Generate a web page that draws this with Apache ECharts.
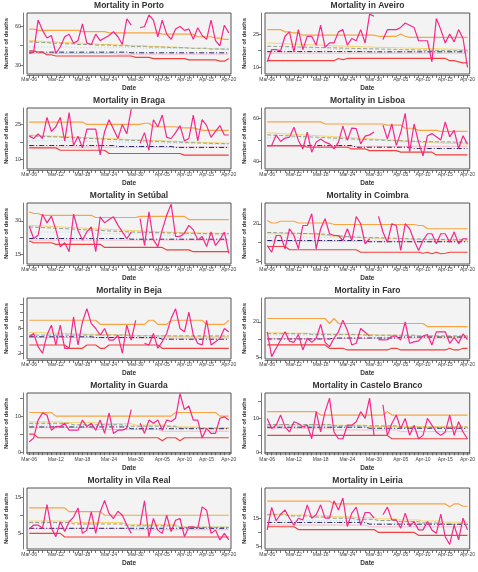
<!DOCTYPE html>
<html>
<head>
<meta charset="utf-8">
<script src="https://cdn.jsdelivr.net/npm/echarts@6/dist/echarts.min.js"></script>
<style>
html,body{margin:0;padding:0;background:#fff;}
#chart{width:478px;height:572px;}
</style>
</head>
<body>
<div id="chart"></div>
<script>
var dates = ['Mar-06','Mar-07','Mar-08','Mar-09','Mar-10','Mar-11','Mar-12','Mar-13','Mar-14','Mar-15','Mar-16','Mar-17','Mar-18','Mar-19','Mar-20','Mar-21','Mar-22','Mar-23','Mar-24','Mar-25','Mar-26','Mar-27','Mar-28','Mar-29','Mar-30','Mar-31',
  'Apr-01','Apr-02','Apr-03','Apr-04','Apr-05','Apr-06','Apr-07','Apr-08','Apr-09','Apr-10','Apr-11','Apr-12','Apr-13','Apr-14','Apr-15','Apr-16','Apr-17','Apr-18','Apr-19','Apr-20'];
var labelIdx = [0,6,12,18,24,30,35,40,45];

var names = ['Porto','Aveiro','Braga','Lisboa','Setúbal','Coimbra','Beja','Faro','Guarda','Castelo Branco','Vila Real','Leiria'];
var yMin = [23,7,6,36.4,10.7,3.9,0.6,4.4,-0.5,-0.5,0.7,4.2];
var yMax = [70.5,34.5,32,65,38,28.3,15.4,30,16.4,17.5,17.5,25.6];
var yTicks = [[30,45,60],[10,17.5,25],[10,17.5,25],[40,50,60],[15,22.5,30],[5,12.5,20],[2,4,6,8,10,12,14],[5,12.5,20],[0,5,10,15],[0,5,10,15],[5,10,15],[5,10,15]];
var yLabels = [[30,60],[10,25],[10,25],[40,60],[15,30],[5,20],[2,8],[5,20],[0,10],[0,10],[5,15],[5,15]];

// Porto
var obsPorto = [39,40,65,57,51,53,39,44,52,54,47,49,62,47,46,54,49,51,53,56,52,46,66,61,null,59,60,69,65,52,65,54,50,58,60,57,58,50,59,53,50,65,49,45,61,55];
var upPorto = [58,58,57,57,57,57,57,57,57,57,57,57,56,56,56,56,56,56,55,55,55,55,55,55,55,55,55,55,55,55,54,54,54,54,54,54,54,54,52,52,52,52,51,51,50,50];
var lowPorto = [41,41,40,40,38,38,37,37,37,37,37,37,37,37,37,37,37,37,37,37,37,37,37,37,36,36,36,36,35,35,35,35,35,35,35,35,34,34,34,34,34,34,34,33,33,35];
var yelPorto = [49,49,48.5,48.5,48,48,48,47.5,47.5,47.5,47,47,47,46.5,46.5,46.5,46,46,46,46,45.5,45.5,45.5,45,45,45,45,44.5,44.5,44.5,44,44,44,44,43.5,43.5,43.5,43,43,43,43,42.5,42.5,42.5,42,42];
var gryPorto = [48,48,47.5,47.5,47.5,47,47,47,46.5,46.5,46.5,46,46,46,46,45.5,45.5,45.5,45.5,45,45,45,45,44.5,44.5,44.5,44.5,44,44,44,44,44,43.5,43.5,43.5,43.5,43,43,43,43,43,42.5,42.5,42.5,42.5,42.5];
var cyaPorto = [44,44,44,44,44,44,44,44,44,44,43.5,43.5,43.5,43.5,43.5,43.5,43.5,43.5,43.5,43.5,43.5,43.5,43.5,43.5,43.5,43.5,43,43,43,43,43,43,43,43,43,43,43,43,43,43,43,43,43,43,43,43];
var bluPorto = [40,40,40,40,40,40,40,40,40,40,40,40,40,40,40,40,40,40,40,40,40,40,40,39.5,39.5,39.5,39.5,39.5,39.5,39.5,39.5,39.5,39.5,39.5,39.5,39.5,39.5,39.5,39.5,39.5,39.5,39.5,39.5,39.5,39.5,39.5];
var pnkPorto = [39,39,39,39,39,39,39,39,39,39,39,39,39,39,39,39,39,39,39,39,38.5,38.5,38.5,38.5,38.5,38.5,38.5,38.5,38.5,38.5,38.5,38.5,38.5,38.5,38.5,38.5,38.5,38.5,38.5,38.5,38.5,38.5,38.5,38.5,38.5,38.5];

// Aveiro
var obsAveiro = [12.5,18,18,17.5,24,26,17,27,18,24,24,20,29,19,21,21,26,27,20,23,22,27,21,34,33,null,22.5,27,27,27,28,30,29,28,22,22,22,12.5,32,27,21,25,21.5,27,23,10];
var upAveiro = [27,27,27,27,26,26,25.5,25.5,24.5,24.5,24.5,24.5,24.5,24.5,24.5,24.5,24.5,24.5,24.5,24.5,24.5,24.5,24.5,24.5,24.5,24,24,24,24,24,25,24,23.5,23.5,23.5,23.5,23.5,23.5,23.5,23.5,23.5,23.5,23.5,23.5,23.5,23.5];
var lowAveiro = [13,13,13,13,13,13,13,13,13,13,13,13,13,13,13,13,14,13.5,14,14,14,14,14,14,14,14,14,14,14,14,14,14,14,14,14,14,14,14,14,14,14,13,13,12.5,12,12];
var yelAveiro = [21,21,20.8,20.8,20.6,20.6,20.5,20.4,20.3,20.2,20.1,20,20,19.9,19.8,19.7,19.6,19.6,19.5,19.4,19.4,19.3,19.2,19.2,19.1,19,19,18.9,18.9,18.8,18.8,18.7,18.7,18.6,18.6,18.5,18.5,18.4,18.4,18.3,18.3,18.2,18.2,18.1,18.1,18];
var gryAveiro = [19.5,19.5,19.4,19.4,19.3,19.3,19.2,19.2,19.1,19.1,19,19,18.9,18.9,18.8,18.8,18.7,18.7,18.6,18.6,18.5,18.5,18.4,18.4,18.3,18.3,18.2,18.2,18.1,18.1,18,18,17.9,17.9,17.8,17.8,17.7,17.7,17.6,17.6,17.6,17.5,17.5,17.5,17.5,17.5];
var cyaAveiro = [18.2,18.2,18.2,18.2,18.2,18.2,18.2,18.2,18.2,18.2,18.2,18.2,18.2,18.2,18.2,18,18,18,18,18,18,18,18,18,18,18,18,18,18,18,18,17.8,17.8,17.8,17.8,17.8,17.8,17.8,17.8,17.8,17.8,17.8,17.8,17.8,17.8,17.8];
var bluAveiro = [17.1,17.1,17.1,17.1,17.1,17.1,17.1,17.1,17.1,17.1,17.1,17.1,17.1,17.1,17.1,17.1,17.1,17.1,17.1,17.1,17.1,17.1,17.1,17,17,17,17,17,17,17,17,17,17,17,17,17,17,17,17,17,17,17,17,17,17,17];
var pnkAveiro = [16.4,16.4,16.4,16.4,16.4,16.4,16.4,16.4,16.4,16.4,16.4,16.4,16.4,16.4,16.4,16.4,16.4,16.4,16.4,16.4,16.4,16.4,16.4,16.4,16.4,16.4,16.4,16.4,16.4,16.4,16.4,16.4,16.4,16.4,16.4,16.4,16.4,16.4,16.4,16.4,16.4,16.4,16.4,16.4,16.4,16.4];

// Braga
var obsBraga = [20,19,21,19,28,22,24,28,18,30,16,20,15,23,23,23,12,22,27,23,19,25,21,31.5,null,17,21.5,14,27,24,29,19.5,19,21.5,24.5,18,19,29,18,27,24.5,19.5,22,24.5,20.5,20.5];
var upBraga = [26,26,26,26,26,26,26,26,26,26,26,26,26,25,25,25,25,25,25,25,25,25,25,25,25,25,25.5,25.5,24,24,24,24,24,24,23.5,23.5,23.5,23.5,23,22.5,22.5,22.5,22.5,22.5,22.5,22.5];
var lowBraga = [15,15,15,15,15,15,15,14,14,14,14,14,14,14,14,14,14,14,12.6,12.6,12.6,12.6,12.6,12.6,12.6,12.6,12.6,12.6,12.6,12.6,12.6,12.6,12.6,12.6,12.6,11.9,11.9,11.9,11.9,11.9,11.9,11.9,11.9,11.9,11.9,11.9];
var yelBraga = [20.4,20.4,20.3,20.2,20.1,20,20,19.9,19.8,19.7,19.6,19.5,19.4,19.4,19.3,19.2,19.1,19,18.9,18.9,18.8,18.7,18.6,18.5,18.5,18.4,18.3,18.2,18.1,18.1,18,17.9,17.8,17.8,17.7,17.6,17.5,17.5,17.4,17.3,17.3,17.2,17.2,17.1,17,17];
var gryBraga = [20.1,20.1,20,19.9,19.8,19.7,19.7,19.6,19.5,19.4,19.3,19.2,19.1,19.1,19,18.9,18.8,18.7,18.6,18.6,18.5,18.4,18.3,18.2,18.2,18.1,18,17.9,17.8,17.8,17.7,17.6,17.5,17.5,17.4,17.3,17.2,17.2,17.1,17,17,16.9,16.9,16.8,16.8,16.8];
var cyaBraga = [18,18,18,18,18,18,18,18,18,18,17.7,17.7,17.7,17.7,17.7,17.7,17.7,17.7,17.7,17.7,17.4,17.4,17.4,17.4,17.4,17.4,17.4,17.4,17.4,17.4,17,17,17,17,17,17,17,17,17,17,16.6,16.6,16.6,16.6,16.6,16.6];
var bluBraga = [16,16,16,16,16,16,16,16,16,16,16,16,16,16,16,16,16,16,16,16,15.6,15.6,15.6,15.6,15.6,15.6,15.6,15.6,15.6,15.6,15.6,15.6,15.6,15.2,15.2,15.2,15.2,15.2,15.2,15.2,15.2,15.2,15.2,15.2,15.2,15.2];
var pnkBraga = [15.3,15.3,15.3,15.3,15.3,15.3,15.3,15.3,15.3,15.3,15.3,15.3,15.3,15.3,15.3,15.3,15.3,15.3,15.3,15.3,15.3,15.3,15.3,15.3,15.3,15.3,15.3,15.3,15.3,15.3,15.3,15.3,15.3,15.3,15.3,15.3,15.3,15.3,15.3,15.3,15.3,15.3,15.3,15.3,15.3,15.3];

// Lisboa
var obsLisboa = [47.4,47.4,52.4,49.3,50.9,51.3,56,49.8,45.8,53.7,44.3,49,50.5,49,48.2,45.8,49,56.5,49.8,55.6,55.3,48.2,51.8,52.4,53.7,null,57,50.5,57.5,47.5,53.5,62.5,44.5,57.5,49,42.5,52,53,51.5,50,58.5,51.5,54.5,46,52,48];
var upLisboa = [58.5,58.5,58.5,58.5,58.5,58.5,58.5,58.5,58.5,58.5,58.5,58.5,58.5,57.5,57.5,57.5,57.5,57.5,57.5,57.5,57.5,57.5,57.5,57.5,57.5,57.5,57.5,57,57,57,57,55.5,55.5,55.5,54.5,54.5,54.5,54.5,54.5,54,54,54,54,54,54,54];
var lowLisboa = [47.4,47.4,47.4,47.4,47.4,47.4,47.4,47.4,47.4,46.6,46.6,46.6,46.6,46.6,46.6,46.6,46.6,46.6,46.6,45.8,45.8,45.8,45.8,45,45,45,45,45,45,45,44.3,44.3,44.3,44.3,44.3,44.3,44.3,44.3,43,43,43,43,43,43,43,43];
var yelLisboa = [53.4,53.3,53.2,53,52.9,52.8,52.7,52.5,52.4,52.3,52.2,52,51.9,51.8,51.7,51.5,51.4,51.3,51.2,51,50.9,50.8,50.7,50.5,50.4,50.3,50.2,50,49.9,49.8,49.7,49.5,49.4,49.3,49.2,49,48.9,48.8,48.7,48.6,48.5,48.5,48.4,48.3,48.2,48.2];
var gryLisboa = [52.4,52.3,52.2,52.1,52,51.9,51.8,51.7,51.6,51.5,51.4,51.3,51.2,51.1,51,50.9,50.8,50.7,50.6,50.5,50.4,50.3,50.2,50.1,50,50,49.9,49.8,49.7,49.7,49.6,49.5,49.5,49.4,49.4,49.3,49.3,49.2,49.2,49.1,49.1,49.1,49,49,49,49];
var cyaLisboa = [51,51,51,51,51,51,51,51,51,51,51,51,51,51,51,50,50,50,50,50,50,50,50,50,50,50,50,50,50,50,49,49,49,49,49,49,49,49,49,49,49,49,49,49,49,49];
var bluLisboa = [47.4,47.4,47.4,47.4,47.4,47.4,47.4,47.4,47.4,47.4,47.4,47.4,47.4,47.4,47.4,47.4,47.4,47.4,47.4,47.4,46.6,46.6,46.6,46.6,46.6,46.6,46.6,46.6,46.6,46.6,46.6,46.6,46.6,46,46,46,46,46,46,46,46,46,46,46,46,46];
var pnkLisboa = [47,47,47,47,47,47,47,47,47,47,47,47,47,47,47,47,47,47,47,47,47,47,47,47,47,47,47,47,47,47,47,47,47,47,47,47,47,47,47,47,47,47,47,47,47,47];

// Setubal
var obsSetubal = [27.6,22.1,23.6,33,29.1,32.1,26.1,18.4,20.2,16.2,33,25.8,21.4,25.1,27.3,16.2,31.8,29.1,30.6,31.8,28.1,25.1,22,25,null,31,19,34,21.5,18.5,26,32.5,37.5,23,23,24.5,28,26,21.5,23,18.5,25,19,21.5,25,15.5];
var upSetubal = [34,33.3,33.3,32.5,32.5,32.5,32.5,32.5,32.5,32.5,32.5,32.5,32.5,32.5,32.5,31.5,31.5,31.5,31.5,31.5,31.5,31.5,31.5,31.5,31.5,32,32,32,32,32,32,32,32,32,32,32,30.6,30.6,30.6,30.6,30.6,30.6,30.6,30.6,30.6,30.6];
var lowSetubal = [21,20.2,20.2,20.2,20.2,20.2,19.5,19.5,19.5,19.5,19.5,19.5,19.5,19.5,19.5,19.5,19.5,18.1,18.1,18.1,18.1,18.1,18.1,18.1,18.1,18.1,18.1,18.1,18.1,18.1,18.1,17,17,17,17,17,17,16.2,16.2,16.2,16.2,16.2,16.2,16.2,16.2,16.2];
var yelSetubal = [28,27.9,27.8,27.7,27.6,27.5,27.4,27.3,27.2,27.1,27,26.9,26.8,26.7,26.6,26.5,26.4,26.3,26.2,26.1,26,25.9,25.8,25.7,25.6,25.5,25.4,25.3,25.2,25.1,25,25,24.9,24.9,24.8,24.8,24.7,24.7,24.6,24.6,24.5,24.5,24.5,24.4,24.4,24.4];
var grySetubal = [27.3,27.2,27.1,27,26.9,26.8,26.7,26.6,26.5,26.4,26.3,26.2,26.1,26,25.9,25.8,25.7,25.6,25.5,25.4,25.3,25.2,25.1,25,25,24.9,24.9,24.8,24.8,24.7,24.7,24.6,24.6,24.5,24.5,24.5,24.4,24.4,24.4,24.3,24.3,24.3,24.2,24.2,24.2,24.2];
var cyaSetubal = [25,25,25,25,25,25,25,25,25,25,25,25,25,25,25,24.3,24.3,24.3,24.3,24.3,24.3,24.3,24.3,24.3,24.3,24.3,24.3,24.3,24.3,24.3,23.6,23.6,23.6,23.6,23.6,23.6,23.6,23.6,23.6,23.6,23.6,23.6,23.6,23.6,23.6,23.6];
var bluSetubal = [22.1,22.1,22.1,22.1,22.1,22.1,22.1,22.1,22.1,22.1,22.1,22.1,22.1,22.1,22.1,22.1,22.1,22.1,22.1,22.1,22.1,22.1,22.1,21.8,21.8,21.8,21.8,21.8,21.8,21.8,21.8,21.8,21.8,21.8,21.8,21.8,21.8,21.8,21.8,21.8,21.8,21.8,21.8,21.8,21.8,21.8];
var pnkSetubal = [21.4,21.4,21.4,21.4,21.4,21.4,21.4,21.4,21.4,21.4,21.4,21.4,21.4,21.4,21.4,21.4,21.4,21.4,21.4,21.4,21.4,21.4,21.4,21.4,21.4,21.4,21.4,21.4,21.4,21.4,21.4,21.4,21.4,21.4,21.4,21.4,21.4,21.4,21.4,21.4,21.4,21.4,21.4,21.4,21.4,21.4];

// Coimbra
var obsCoimbra = [11.3,8.6,15.3,15.3,10,18,15.3,10,19.3,19.3,24,10,18,22,16,15.3,15.3,13.3,18,13.3,22.9,20,12,14,null,23,16.7,12.6,20,19.3,9.3,20,18,13.3,9.3,13.3,16,16,12,16,16,12.6,16.7,12,14,14];
var upCoimbra = [21.3,20.3,20.3,21,21,21,21,20.3,20.3,20.3,20.3,20.3,20.3,20.3,20.3,19.7,19.7,19.7,19.7,19.7,19.7,19.7,19.7,19.7,19.7,19.7,19.7,19.7,19.7,19.7,19.7,19.7,19.7,19.7,19.3,19.3,18,18,18,18,18,18,18,18,18,18];
var lowCoimbra = [10.9,10.9,10.9,10.9,10.9,9.6,9.6,9.6,9.6,9.6,9.6,9.6,9.6,9.6,9.6,9.6,9.6,9.6,9.6,9.6,9.6,8.6,8.6,8.6,8.6,8.6,8.6,8.6,8.6,8.6,8.6,8.6,8.6,8.6,8.6,8.2,8.6,8,8.6,8,8.2,8.6,8.6,8.6,8.6,8.6];
var yelCoimbra = [16,16,16,16,16,16,16,16,16,16,16,15.8,15.6,15.4,15.2,15,14.9,14.8,14.7,14.6,14.5,14.4,14.4,14.3,14.3,14.2,14.2,14.1,14.1,14,14,13.9,13.9,13.8,13.8,13.7,13.7,13.6,13.6,13.6,13.5,13.5,13.5,13.5,13.5,13.5];
var gryCoimbra = [16.5,16.5,16.4,16.4,16.3,16.3,16.2,16.2,16.1,16.1,16,16,15.9,15.8,15.6,15.4,15.2,15,14.9,14.8,14.7,14.6,14.5,14.5,14.4,14.4,14.3,14.3,14.2,14.2,14.1,14.1,14,14,13.9,13.9,13.8,13.8,13.7,13.7,13.7,13.6,13.6,13.6,13.6,13.6];
var cyaCoimbra = [14.6,14.6,14.6,14.6,14.6,14.6,14.6,14.6,14.6,14.6,14.6,14.6,14.6,14.6,14.6,14.6,14.6,14.6,14.6,14.6,14.6,14.6,14.6,14,14,14,14,14,14,14,14,14,14,14,14,14,14,14,14,14,14,14,14,14,14,14];
var bluCoimbra = [13.3,13.3,13.3,13.3,13.3,13.3,13.3,13.3,13.3,13.3,13.3,13.3,13.3,13.3,13.3,13.3,13.3,13.3,13.3,13.3,13.3,13.3,13.3,12.8,12.8,12.8,12.8,12.8,12.8,12.8,12.8,12.8,12.8,12.8,12.8,12.8,12.8,12.8,12.8,12.8,12.8,12.8,12.8,12.8,12.8,12.8];
var pnkCoimbra = [13,13,13,13,13,13,13,13,13,13,13,13,13,13,13,13,13,13,13,13,13,13,13,13,13,13,13,13,13,13,13,13,13,13,13,13,13,13,13,13,13,13,13,13,13,13];

// Beja
var obsBeja = [6,6.8,3.6,2,6.4,8.8,4,8.8,3.2,3.2,10.8,4,9.6,12.8,9.2,8,6.4,8,5.2,5.2,6.4,2,8.8,5.2,10,null,4.4,4,6.8,3.2,4.8,6.8,10.4,12.8,8,7.2,12,6.4,4.4,4,10,4,4.8,5.6,8,7.2];
var upBeja = [10,10,10,10,10,10,10,10,10,10,10,10,10,10,10,10,9,9,9,9,9,9,9,9,9,9,9,10,10,9,9,9,10,10,10,10,10,10,10,10,9,9,9,9,9,10];
var lowBeja = [4,4,4,4,4,4,4,4,4,3.2,3.2,3.2,3.2,4,4,4,3.2,3.2,4,4,4,4,4,4,4,4,4,4,4,4,3.2,3.2,3.2,3.2,3.2,3.2,3.2,3.2,3.2,3.2,3.2,3.2,3.2,3.2,3.2,3.2];
var yelBeja = [7,7,7,7,6.9,6.9,6.9,6.8,6.8,6.8,6.7,6.7,6.7,6.6,6.6,6.6,6.5,6.5,6.5,6.5,6.4,6.4,6.4,6.4,6.3,6.3,6.3,6.3,6.2,6.2,6.2,6.2,6.1,6.1,6.1,6.1,6.1,6,6,6,6,6,6,6,6,6];
var gryBeja = [6.4,6.4,6.4,6.4,6.4,6.4,6.4,6.4,6.4,6.4,6.4,6.4,6.4,6.4,6.4,6.4,6.4,6.4,6.4,6.4,6.4,6.4,6.4,6.2,6.2,6.2,6.2,6.2,6.2,6.2,6.2,6.2,6.2,6.2,6.2,6.2,6.2,6.2,6.2,6.2,6.2,6.2,6.2,6.2,6.2,6.2];
var cyaBeja = [6.5,6.5,6.5,6.5,6.5,6.5,6.5,6.5,6.5,6.5,6.5,6.5,6.5,6.5,6.5,6.2,6.2,6.2,6.2,6.2,6.2,6.2,6.2,6.2,6.2,6.2,6.2,6.2,6.2,6.2,5.9,5.9,5.9,5.9,5.9,5.9,5.9,5.9,5.9,5.9,5.9,5.9,5.9,5.9,5.9,5.9];
var bluBeja = [6,6,6,6,6,6,6,6,6,6,6,6,6,6,6,5.8,5.8,5.8,5.8,5.8,5.8,5.8,5.8,5.8,5.8,5.8,5.8,5.8,5.8,5.8,5.4,5.4,5.4,5.4,5.4,5.4,5.4,5.4,5.4,5.4,5.4,5.4,5.4,5.4,5.4,5.4];
var pnkBeja = [5.8,5.8,5.8,5.8,5.8,5.8,5.8,5.8,5.8,5.8,5.8,5.8,5.8,5.8,5.8,5.8,5.8,5.8,5.8,5.8,5.8,5.8,5.8,5.7,5.7,5.7,5.7,5.7,5.7,5.7,5.7,5.7,5.7,5.7,5.7,5.7,5.7,5.7,5.7,5.7,5.7,5.7,5.7,5.7,5.7,5.7];

// Faro
var obsFaro = [15.8,5.4,8.9,12.4,15.8,11.9,11.4,14.7,8.2,13.1,11.4,13.1,18.9,11.4,9.6,13.1,15.8,20.7,16.5,10.3,11,17.2,15.6,14,null,12.5,12.4,12.5,14,14,12.4,20,11,11.6,12,14,14.7,10.3,15.8,15.8,15.8,11,13.5,11,14.9,12.5];
var upFaro = [21.4,21.4,21.4,21.4,21.4,21.4,21.4,21.4,21.4,21.4,21.4,21.4,21.4,21.4,19.3,21.4,19.3,19.3,19.3,19.3,19.3,19.3,19.3,19.3,19.3,19.3,19.3,19.3,19.3,19.3,19.3,19.3,19.3,19.3,19.3,19.3,18,18,18,18,18,18,18,18,18,18];
var lowFaro = [10.3,10.3,10.3,10.3,10.3,10.3,10.3,10.3,10.3,10.3,10.3,10.3,10.3,10.3,8.9,8.9,8.9,8.9,8.2,8.2,8.2,8.2,8.2,8.2,8.2,8.2,8.2,8.2,8.9,8.9,8.2,8.2,8.2,8.2,8.2,8.2,8.2,8.2,8.2,8.2,8.2,8.9,8.2,8.2,8.9,8.9];
var yelFaro = [15.4,15.4,15.4,15.4,15.4,15.2,15.2,15.2,15.2,15.2,15,15,15,15,15,14.8,14.8,14.8,14.8,14.8,14.6,14.6,14.6,14.6,14.6,14.4,14.4,14.4,14.4,14.4,14.2,14.2,14.2,14.2,14.2,14,14,14,14,14,13.8,13.8,13.8,13.8,13.8,13.8];
var gryFaro = [15,15,15,15,15,15,15,15,15,15,14.7,14.7,14.7,14.7,14.7,14.7,14.7,14.7,14.7,14.7,14.7,14.7,14.4,14.4,14.4,14.4,14.4,14.4,14.4,14.4,14.4,14.4,14.4,14.4,14.1,14.1,14.1,14.1,14.1,14.1,14.1,14.1,14.1,14.1,14.1,14.1];
var cyaFaro = [14.4,14.4,14.4,14.4,14.4,14.4,14.4,14.4,14.4,14.4,14.4,14.4,14.4,14.4,14.4,14.4,14.4,14.4,14.4,14.4,14.4,14.4,14.4,14,14,14,14,14,14,14,14,14,14,14,14,14,14,14,14,14,14,14,14,14,14,14];
var bluFaro = [12.8,12.8,12.8,12.8,12.8,12.8,12.8,12.8,12.8,12.8,12.8,12.8,12.8,12.8,12.8,13.2,13.2,13.2,13.2,13.2,13.2,13.2,13.2,13.2,13.2,13.2,13.2,13.2,13.2,13.2,13.6,13.6,13.6,13.6,13.6,13.6,13.6,13.6,13.6,13.6,13.6,13.6,13.6,13.6,13.6,13.6];
var pnkFaro = [13,13,13,13,13,13,13,13,13,13,13,13,13,13,13,13,13,13,13,13,13,13,13,13.2,13.2,13.2,13.2,13.2,13.2,13.2,13.2,13.2,13.2,13.2,13.2,13.2,13.2,13.2,13.2,13.2,13.2,13.2,13.2,13.2,13.2,13.2];

// Guarda
var obsGuarda = [2.9,3.9,8.9,10.9,10.3,6.1,7.1,7.1,8,6.1,6.1,6.1,8.9,7.1,8,6.1,8.9,5.2,10.9,5.2,6.1,6.1,6.6,11.8,null,8,5.2,8.9,8,8.9,6.1,8.9,8.5,9.4,16.2,11.8,12.8,8.9,8.9,3.9,6.6,5.2,5.2,9.4,9.8,8.9];
var upGuarda = [11,11,11,11,11,11,10,10,10,10,10,10,10,10,10,10,10,10,10,10,10,10,10,10,10,10,10,10,10,10,10,10,10,11,11,11,11,11,11,11,11,11,11,10,10,10];
var lowGuarda = [5,5,4,4,4,4,4,4,4,4,4,4,4,4,4,4,4,4,4,4,4,4,4,4,4,4,4,4,4,4,3.2,4,4,4,3.2,4,4,4,4,4,4,4,4,4,4,4];
var yelGuarda = [8.4,8.4,8.4,8.4,8.4,8.4,8.4,8.4,8.2,8.2,8.2,8.2,8.2,8.2,8.2,8.2,7.9,7.9,7.9,7.9,7.9,7.9,7.9,7.9,7.5,7.5,7.5,7.5,7.5,7.5,7.5,7.5,7,7,7,7,7,7,7,6.6,6.6,6.6,6.6,6.6,6.6,6.6];
var gryGuarda = [8,8,8,8,8,8,8,8,8,8,7.6,7.6,7.6,7.6,7.6,7.6,7.6,7.6,7.6,7.6,7.6,7.6,7.2,7.2,7.2,7.2,7.2,7.2,7.2,7.2,7.2,7.2,7.2,7.2,6.7,6.7,6.7,6.7,6.7,6.7,6.7,6.7,6.7,6.7,6.7,6.7];
var cyaGuarda = [7.5,7.5,7.5,7.5,7.5,7.5,7.5,7.5,7.5,7.5,7.5,7.5,7.5,7.5,7.5,7.5,7.5,7.5,7.5,7.5,7.5,7.5,7.5,6.8,6.8,6.8,6.8,6.8,6.8,6.8,6.8,6.8,6.8,6.8,6.8,6.8,6.8,6.8,6.8,6.8,6.8,6.8,6.8,6.8,6.8,6.8];
var bluGuarda = [7,7,7,7,7,7,7,7,7,7,7,7,7,7,7,7,7,7,7,7,7,7,7,6.5,6.5,6.5,6.5,6.5,6.5,6.5,6.5,6.5,6.5,6.5,6.5,6.5,6.5,6.5,6.5,6.5,6.5,6.5,6.5,6.5,6.5,6.5];
var pnkGuarda = [6.8,6.8,6.8,6.8,6.8,6.8,6.8,6.8,6.8,6.8,6.8,6.8,6.8,6.8,6.8,6.3,6.3,6.3,6.3,6.3,6.3,6.3,6.3,6.3,6.3,6.3,6.3,6.3,6.3,6.3,5.8,5.8,5.8,5.8,5.8,5.8,5.8,5.8,5.8,5.8,5.8,5.8,5.8,5.8,5.8,5.8];

// Castelo Branco
var obsCastelo = [10,7,8,11,7.5,6,9,8.5,7.5,8,4,12,6,12,16,6,4,4,8,8,9,12,10,16,5,null,14,5,8.5,11,7,10,5,8,4,5,10,8,6,5,6,11,5,9,6,4];
var upCastelo = [12,12,12,12,12,12,12,12,12,12,12,12,11,11,11,11,11,11,11,11,11,11,11,11,11,11,11,12,11,11,11,11,11,11,11,11,11,11,11,11,11,11,11,11,11,11];
var lowCastelo = [5,5,5,5,5,5,5,5,5,5,5,5,5,5,5,5,5,5,5,5,5,5,5,5,5,5,5,5,4,4,4,4,4,4,4,4,4,4,4,4,4,4,4,4,4,4];
var yelCastelo = [8,8,8,8,8,8,8,8,8,8,8,8,8,8,8,8,8,8,8,8,8,8,8,7.6,7.6,7.6,7.6,7.6,7.6,7.6,7.6,7.6,7.6,7.6,7.6,7.6,7.6,7.6,7.6,7.6,7.6,7.6,7.6,7.6,7.6,7.6];
var gryCastelo = [8.2,8.2,8.2,8.2,8.2,8.2,8.2,8.2,8.2,8.2,8.2,8.2,8.2,8.2,8.2,7.8,7.8,7.8,7.8,7.8,7.8,7.8,7.8,7.8,7.8,7.8,7.8,7.8,7.8,7.8,7.4,7.4,7.4,7.4,7.4,7.4,7.4,7.4,7.4,7.4,7.4,7.4,7.4,7.4,7.4,7.4];
var cyaCastelo = [7.6,7.6,7.6,7.6,7.6,7.6,7.6,7.6,7.6,7.6,7.6,7.6,7.6,7.6,7.6,7.6,7.6,7.6,7.6,7.6,7.6,7.6,7.6,7.1,7.1,7.1,7.1,7.1,7.1,7.1,7.1,7.1,7.1,7.1,7.1,7.1,7.1,7.1,7.1,7.1,7.1,7.1,7.1,7.1,7.1,7.1];
var bluCastelo = [7.4,7.4,7.4,7.4,7.4,7.4,7.4,7.4,7.4,7.4,7.4,7.4,7.4,7.4,7.4,7.4,7.4,7.4,7.4,7.4,7.4,7.4,7.4,7.1,7.1,7.1,7.1,7.1,7.1,7.1,7.1,7.1,7.1,7.1,7.1,7.1,7.1,7.1,7.1,7.1,7.1,7.1,7.1,7.1,7.1,7.1];
var pnkCastelo = [7.1,7.1,7.1,7.1,7.1,7.1,7.1,7.1,7.1,7.1,7.1,7.1,7.1,7.1,7.1,6.6,6.6,6.6,6.6,6.6,6.6,6.6,6.6,6.6,6.6,6.6,6.6,6.6,6.6,6.6,6.1,6.1,6.1,6.1,6.1,6.1,6.1,6.1,6.1,6.1,6.1,6.1,6.1,6.1,6.1,6.1];

// Vila Real
var obsVila = [6.2,7.3,7.3,6.4,12.9,6.4,4.1,8.2,5.5,8.2,9.5,12,5,5.9,10.9,5,10.9,14.1,10.5,9.1,11.1,10,7.3,5,null,7.3,14,4.1,9.1,5.9,5,10,5.5,8.6,9.1,4.1,6.8,6.8,6.4,12.3,11.4,5,5.9,3.2,5,3.2];
var upVila = [12,12,12,12,12,12,12,12,12,11,11,11,11,11,11,11,11,10,10,10,10,10,10,10,10,10,10,10,10,10,10,10,10,10,10,10,10,10,10,10,10,10,10,10,10,10];
var lowVila = [5,5,5,5,5,5,5,5,4,4,4,4,4,4,4,4,4,4,4,4,4,4,4,4,4,4,4,4,4,4,4,4,4,4,4,4,4,4,4,4,4,4,4,4,4,4];
var yelVila = [8.4,8.4,8.4,8.4,8.4,8.4,8.4,8.4,8.4,8.4,8,8,8,8,8,8,8,8,8,8,8,8,7.4,7.4,7.4,7.4,7.4,7.4,7.4,7.4,7.4,7.4,7.4,7.4,6.8,6.8,6.8,6.8,6.8,6.8,6.8,6.8,6.8,6.8,6.8,6.8];
var gryVila = [8,8,8,8,8,8,8,8,8,8,7.6,7.6,7.6,7.6,7.6,7.6,7.6,7.6,7.6,7.6,7.6,7.6,7.1,7.1,7.1,7.1,7.1,7.1,7.1,7.1,7.1,7.1,7.1,7.1,6.6,6.6,6.6,6.6,6.6,6.6,6.6,6.6,6.6,6.6,6.6,6.6];
var cyaVila = [7.7,7.7,7.7,7.7,7.7,7.7,7.7,7.7,7.7,7.7,7.7,7.7,7.7,7.7,7.7,7.7,7.7,7.7,7.7,7.7,7.7,7.7,7.7,6.9,6.9,6.9,6.9,6.9,6.9,6.9,6.9,6.9,6.9,6.9,6.9,6.9,6.9,6.9,6.9,6.9,6.9,6.9,6.9,6.9,6.9,6.9];
var bluVila = [6.4,6.4,6.4,6.4,6.4,6.4,6.4,6.4,6.4,6.4,6.4,6.4,6.4,6.4,6.4,6.4,6.4,6.4,6.4,6.4,6.4,6.4,6.4,6.4,6.4,6.4,6.4,6.4,6.4,6.4,6.4,6.4,6.4,6.4,6.4,6.4,6.4,6.4,6.4,6.4,6.4,6.4,6.4,6.4,6.4,6.4];
var pnkVila = [6.3,6.3,6.3,6.3,6.3,6.3,6.3,6.3,6.3,6.3,6.3,6.3,6.3,6.3,6.3,6.3,6.3,6.3,6.3,6.3,6.3,6.3,6.3,6,6,6,6,6,6,6,6,6,6,6,6,6,6,6,6,6,6,6,6,6,6,6];

// Leiria
var obsLeiria = [10.9,18.8,14.1,16.4,17.9,15,12.6,15,14.4,19.7,15,16.2,19.7,15,15,21.1,17.9,22.1,12.1,16.8,18.9,12.6,17,17,15,null,16.2,18.9,14.4,14.4,11.5,16.8,12.1,13.8,10.9,10.9,13.8,10.9,9.7,16.4,8.5,5.8,12.6,7.4,15,10.9];
var upLeiria = [21,21,21,21,21,21,21,21,21,21,21,21,21,21,21,20,20,20,20,20,20,20,20,20,20,20,20,20,20,20,20,20,20,20,20,20,20,20,20,20,20,19,20,20,19.2,19.2];
var lowLeiria = [12,12,12,12,12,12,12,11,11,11,11,11,11,11,11,11,11,11,11,11,11,11,11,11,11,10,10,10,10,10,10,10,10,10,9,9,9,9,9,9,9,9,9,9,9,9];
var yelLeiria = [16.4,16.4,16.4,16.4,16.4,16.1,16.1,16.1,16.1,16.1,15.8,15.8,15.8,15.8,15.8,15.5,15.5,15.5,15.5,15.5,15.2,15.2,15.2,15.2,15.2,14.8,14.8,14.8,14.8,14.8,14.4,14.4,14.4,14.4,14.4,14,14,14,14,14,13.6,13.6,13.6,13.6,13.6,13.6];
var gryLeiria = [16.2,16.2,16.2,16.2,16.2,15.8,15.8,15.8,15.8,15.8,15.4,15.4,15.4,15.4,15.4,15,15,15,15,15,14.6,14.6,14.6,14.6,14.6,14.2,14.2,14.2,14.2,14.2,13.8,13.8,13.8,13.8,13.8,13.3,13.3,13.3,13.3,13.3,12.8,12.8,12.8,12.8,12.8,12.8];
var cyaLeiria = [14.1,14.1,14.1,14.1,14.1,14.1,14.1,14.1,14.1,14.1,14.1,14.1,14.1,14.1,14.1,14.1,14.1,14.1,14.1,14.1,14.1,14.1,14.1,13,13,13,13,13,13,13,13,13,13,13,13,13,13,13,13,13,13,13,13,13,13,13];
var bluLeiria = [13.5,13.5,13.5,13.5,13.5,13.5,13.5,13.5,13.5,13.5,13.5,13.5,13.5,13.5,13.5,13.5,13.5,13.5,13.5,13.5,13.5,13.5,13.5,12.9,12.9,12.9,12.9,12.9,12.9,12.9,12.9,12.9,12.9,12.9,12.9,12.9,12.9,12.9,12.9,12.9,12.9,12.9,12.9,12.9,12.9,12.9];
var pnkLeiria = [12.6,12.6,12.6,12.6,12.6,12.6,12.6,12.6,12.6,12.6,12.6,12.6,12.6,12.6,12.6,12.6,12.6,12.6,12.6,12.6,12.6,12.6,12.6,12,12,12,12,12,12,12,12,12,12,12,12,12,12,12,12,12,12,12,12,12,12,12];

// per-region series, order: obs, up, low, yel, gry, cya, blu, pnk
var tables = [
  [obsPorto, upPorto, lowPorto, yelPorto, gryPorto, cyaPorto, bluPorto, pnkPorto],
  [obsAveiro, upAveiro, lowAveiro, yelAveiro, gryAveiro, cyaAveiro, bluAveiro, pnkAveiro],
  [obsBraga, upBraga, lowBraga, yelBraga, gryBraga, cyaBraga, bluBraga, pnkBraga],
  [obsLisboa, upLisboa, lowLisboa, yelLisboa, gryLisboa, cyaLisboa, bluLisboa, pnkLisboa],
  [obsSetubal, upSetubal, lowSetubal, yelSetubal, grySetubal, cyaSetubal, bluSetubal, pnkSetubal],
  [obsCoimbra, upCoimbra, lowCoimbra, yelCoimbra, gryCoimbra, cyaCoimbra, bluCoimbra, pnkCoimbra],
  [obsBeja, upBeja, lowBeja, yelBeja, gryBeja, cyaBeja, bluBeja, pnkBeja],
  [obsFaro, upFaro, lowFaro, yelFaro, gryFaro, cyaFaro, bluFaro, pnkFaro],
  [obsGuarda, upGuarda, lowGuarda, yelGuarda, gryGuarda, cyaGuarda, bluGuarda, pnkGuarda],
  [obsCastelo, upCastelo, lowCastelo, yelCastelo, gryCastelo, cyaCastelo, bluCastelo, pnkCastelo],
  [obsVila, upVila, lowVila, yelVila, gryVila, cyaVila, bluVila, pnkVila],
  [obsLeiria, upLeiria, lowLeiria, yelLeiria, gryLeiria, cyaLeiria, bluLeiria, pnkLeiria]
];

// line looks, drawn back to front
var looks = [
  {idx: 3, color: '#f7d36a', width: 1, type: 'solid'},
  {idx: 4, color: '#8f9e8a', width: 1, type: [4, 2]},
  {idx: 5, color: '#a6dbe6', width: 1, type: [1, 2]},
  {idx: 7, color: '#f6b8ca', width: 1, type: 'solid'},
  {idx: 6, color: '#1d2568', width: 1, type: [5, 2, 1, 2]},
  {idx: 2, color: '#f2403c', width: 1.2, type: 'solid'},
  {idx: 1, color: '#f8a443', width: 1.2, type: 'solid'},
  {idx: 0, color: '#f5288c', width: 1.2, type: 'solid'}
];

var chart = echarts.init(document.getElementById('chart'), null, {renderer: 'canvas'});
var grids = [], xAxes = [], yAxes = [], titles = [], series = [];
var axisCol = '#555';

names.forEach(function (nm, k) {
  var col = k % 2, row = Math.floor(k / 2);
  var left = col ? 265 : 27, width = col ? 205 : 204;
  var top = row * 95 + 13;
  grids.push({left: left, top: top, width: width, height: 61, show: true,
    backgroundColor: '#f3f3f3', borderColor: '#555', borderWidth: 1, containLabel: false});
  titles.push({text: 'Mortality in ' + nm, left: left + width / 2, top: row * 95 + 1, textAlign: 'center', padding: 0,
    textStyle: {fontSize: 8.5, fontWeight: 'bold', color: '#333', fontFamily: 'Liberation Sans'}});
  xAxes.push({gridIndex: k, type: 'category', data: dates, boundaryGap: true, offset: 1,
    axisLine: {show: true, lineStyle: {color: axisCol, width: 0.8}},
    axisTick: {show: true, interval: 0, alignWithLabel: true, length: 3, lineStyle: {color: axisCol, width: 0.8}},
    axisLabel: {interval: function (i) { return labelIdx.indexOf(i) >= 0; }, fontSize: 5, color: '#444', margin: 2, fontFamily: 'Liberation Sans'},
    splitLine: {show: false},
    name: 'Date', nameLocation: 'middle', nameGap: 10,
    nameTextStyle: {fontSize: 6.5, fontWeight: 'bold', color: '#333', fontFamily: 'Liberation Sans'}});
  yAxes.push({gridIndex: k, type: 'value', min: yMin[k], max: yMax[k], offset: 4,
    axisLine: {show: true, lineStyle: {color: axisCol, width: 0.8}},
    axisTick: {show: true, length: 3, customValues: yTicks[k], lineStyle: {color: axisCol, width: 0.8}},
    axisLabel: {customValues: yLabels[k], fontSize: 5.5, color: '#444', margin: 2, fontFamily: 'Liberation Sans'},
    splitLine: {show: false},
    name: 'Number of deaths', nameLocation: 'middle', nameGap: 14, nameRotate: 90,
    nameTextStyle: {fontSize: 6, fontWeight: 'bold', color: '#333', fontFamily: 'Liberation Sans'}});
  looks.forEach(function (lk) {
    series.push({type: 'line', xAxisIndex: k, yAxisIndex: k, data: tables[k][lk.idx],
      symbol: 'none', connectNulls: false, silent: true,
      lineStyle: {color: lk.color, width: lk.width, type: lk.type}});
  });
});

chart.setOption({
  animation: false,
  textStyle: {fontFamily: 'Liberation Sans'},
  title: titles,
  grid: grids,
  xAxis: xAxes,
  yAxis: yAxes,
  series: series
});
window.addEventListener('resize', function () { chart.resize(); });
</script>
</body>
</html>
